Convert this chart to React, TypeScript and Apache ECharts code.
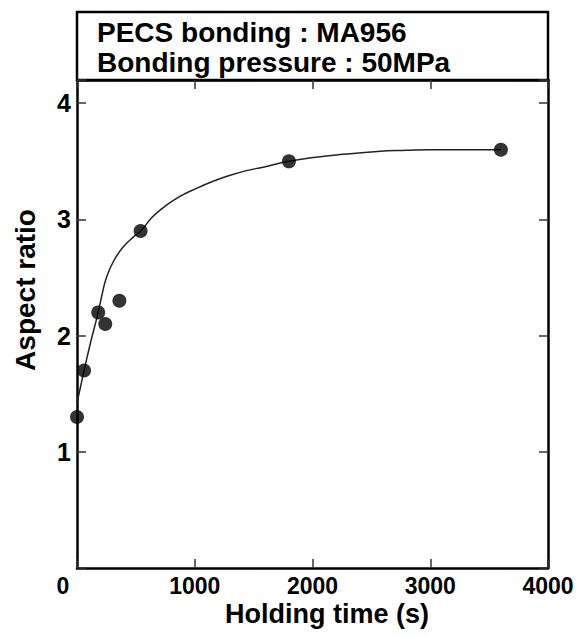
import React, { useEffect, useRef } from "react";
import * as echarts from "echarts";

// Measured points
const holdingTime = [0, 60, 180, 240, 360, 540, 1800, 3600];
const aspectRatio = [1.3, 1.7, 2.2, 2.1, 2.3, 2.9, 3.5, 3.6];

// Fitted curve
const curveTime = [0, 30, 60, 120, 180, 210, 250, 310, 390, 480, 540, 640, 730, 860, 1020, 1160, 1300, 1440, 1580, 1800, 2030, 2260, 2550, 2800, 3000, 3300, 3600];
const curveRatio = [1.42, 1.56, 1.7, 1.96, 2.2, 2.34, 2.5, 2.64, 2.76, 2.85, 2.9, 3.02, 3.1, 3.19, 3.27, 3.33, 3.38, 3.42, 3.45, 3.5, 3.535, 3.56, 3.585, 3.595, 3.6, 3.6, 3.6];

const xTicks = [0, 1000, 2000, 3000, 4000];
const yTicks = [1, 2, 3, 4];

const headerLines = ["PECS bonding : MA956", "Bonding pressure : 50MPa"];
const xName = "Holding time (s)";
const yName = "Aspect ratio";

const FONT = "'Liberation Sans', Arial, Helvetica, sans-serif";

export default function App() {
  const ref = useRef<HTMLDivElement>(null);
  useEffect(() => {
    if (!ref.current) return;
    const chart = echarts.init(ref.current, null, { renderer: "svg" });
    const W = 583;
    const H = 637;
    const left = 77, right = 548, top = 80, bottom = 568;
    const lineStyle = { color: "#000", width: 2.5 };
    const tickStyle = { color: "#333", width: 1.5 };
    const baseX = {
      type: "value",
      min: xTicks[0],
      max: xTicks[xTicks.length - 1],
      interval: 1000,
      axisLine: { show: true, onZero: false, lineStyle },
      axisTick: { show: true, inside: true, length: 9, lineStyle: tickStyle },
      splitLine: { show: false },
    };
    const baseY = {
      type: "value",
      min: 0,
      max: 4.2,
      interval: 1,
      axisLine: { show: true, onZero: false, lineStyle },
      axisTick: { show: true, inside: true, length: 9, lineStyle: tickStyle },
      splitLine: { show: false },
    };
    chart.setOption({
      animation: false,
      backgroundColor: "#fff",
      textStyle: { fontFamily: FONT },
      grid: { left, right: W - right, top, bottom: H - bottom, containLabel: false },
      xAxis: [
        {
          ...baseX,
          position: "bottom",
          axisLabel: {
            fontSize: 23, fontWeight: "bold", color: "#000", margin: 6, fontFamily: FONT,
            formatter: (v: number) => (v === 0 ? "{z|0}" : String(v)),
            rich: { z: { fontSize: 23, fontWeight: "bold", color: "#000", fontFamily: FONT, padding: [0, 28, 0, 0] } },
          },
        },
        { ...baseX, position: "top", axisLabel: { show: false } },
      ],
      yAxis: [
        {
          ...baseY,
          position: "left",
          axisLabel: {
            fontSize: 25, fontWeight: "bold", color: "#000", margin: 6, fontFamily: FONT,
            formatter: (v: number) => (yTicks.indexOf(v) >= 0 ? String(v) : ""),
          },
        },
        { ...baseY, position: "right", axisLabel: { show: false } },
      ],
      graphic: [
        {
          type: "rect",
          shape: { x: left, y: 12, width: right - left, height: top - 12 },
          style: { fill: "none", stroke: "#000", lineWidth: 2.5 },
        },
        {
          type: "text",
          x: 97,
          y: 18,
          style: { text: headerLines[0], font: `bold 28px ${FONT}`, fill: "#000" },
        },
        {
          type: "text",
          x: 97,
          y: 48,
          style: { text: headerLines[1], font: `bold 28px ${FONT}`, fill: "#000" },
        },
        {
          type: "text",
          x: 327,
          y: 614,
          style: { text: xName, font: `bold 27px ${FONT}`, fill: "#000", align: "center", verticalAlign: "middle" },
        },
        {
          type: "text",
          x: 25,
          y: 290,
          rotation: Math.PI / 2,
          style: { text: yName, font: `bold 28px ${FONT}`, fill: "#000", align: "center", verticalAlign: "middle" },
        },
      ],
      series: [
        {
          type: "line",
          data: curveTime.map((t, i) => [t, curveRatio[i]]),
          smooth: true,
          showSymbol: false,
          lineStyle: { color: "#222", width: 1.5 },
          z: 2,
        },
        {
          type: "scatter",
          data: holdingTime.map((t, i) => [t, aspectRatio[i]]),
          symbol: "circle",
          symbolSize: 14,
          itemStyle: { color: "#000" },
          z: 3,
        },
      ],
    });
    return () => chart.dispose();
  }, []);
  return <div ref={ref} style={{ width: 583, height: 637, position: "absolute", left: 0, top: 0 }} />;
}
